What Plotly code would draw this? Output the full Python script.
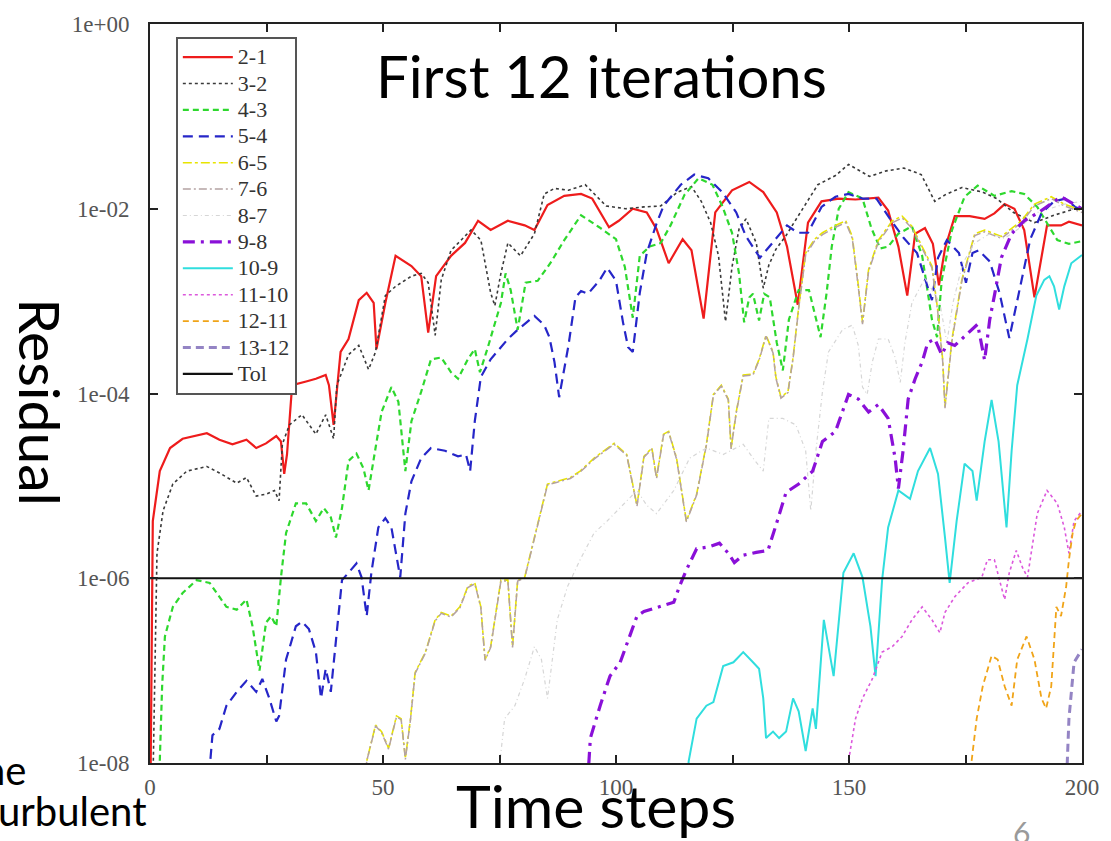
import plotly.graph_objects as go

# ---- data: (time step, log10 residual) ----
TIME_RANGE = [0, 200]
X_TICKS = [0, 25, 50, 75, 100, 125, 150, 175, 200]
X_TICK_TEXT = ["0", "", "50", "", "100", "", "150", "", "200"]
Y_TICKS = [1e0, 1e-2, 1e-4, 1e-6, 1e-8]
Y_TICK_TEXT = ["1e+00", "1e-02", "1e-04", "1e-06", "1e-08"]
TOL = 1e-6

r21 = [(0.1, -8.3), (0.6, -5.38), (2.1, -4.84), (4.3, -4.59), (7.0, -4.49), (12.2, -4.43), (14.9, -4.50),
       (17.7, -4.55), (20.7, -4.50), (22.8, -4.59), (24.9, -4.54), (27.1, -4.46), (28.1, -4.52), (28.8, -4.87),
       (29.4, -4.66), (30.5, -3.91), (33.5, -3.87), (35.6, -3.84), (37.7, -3.80), (38.4, -3.91), (39.4, -4.34),
       (40.9, -3.55), (42.6, -3.41), (44.8, -2.99), (46.5, -2.91), (48.0, -3.02), (48.6, -3.52), (50.5, -3.02),
       (52.7, -2.51), (56.1, -2.62), (58.2, -2.73), (59.7, -3.34), (61.4, -2.73), (64.6, -2.51), (67.6, -2.37),
       (70.4, -2.13), (73.1, -2.23), (76.8, -2.13), (80.4, -2.18), (82.5, -2.23), (85.3, -1.96), (88.9, -1.86),
       (92.5, -1.84), (94.9, -1.89), (98.5, -2.20), (100.6, -2.13), (103.6, -2.00), (106.6, -2.04), (108.7, -2.22),
       (111.3, -2.59), (114.3, -2.33), (116.2, -2.45), (118.8, -3.19), (121.3, -2.04), (124.9, -1.80), (128.6, -1.71),
       (131.6, -1.82), (134.5, -2.04), (136.7, -2.41), (139.0, -3.04), (141.2, -2.15), (144.1, -1.92), (147.8, -1.89),
       (151.4, -1.90), (156.3, -1.88), (158.4, -2.02), (160.6, -2.41), (162.5, -2.94), (164.2, -2.27), (166.3, -2.21),
       (168.0, -2.38), (169.3, -2.83), (170.6, -2.43), (172.7, -2.08), (175.9, -2.08), (179.1, -2.11), (181.2, -2.05),
       (183.4, -1.95), (185.5, -2.00), (187.6, -2.23), (189.8, -2.96), (191.5, -2.48), (192.5, -2.18), (195.5, -2.18),
       (197.2, -2.14), (200.0, -2.18)]

r32 = [(0.6, -8.3), (1.1, -6.66), (1.5, -5.73), (2.8, -5.27), (4.9, -4.98), (7.9, -4.84), (12.2, -4.79),
       (14.9, -4.86), (18.6, -4.97), (20.7, -4.91), (22.8, -5.11), (24.9, -5.09), (26.7, -5.05), (27.7, -5.16),
       (28.4, -4.55), (29.9, -4.34), (32.6, -4.23), (35.6, -4.44), (37.7, -4.23), (39.4, -4.49), (40.1, -3.91),
       (42.6, -3.58), (44.8, -3.48), (46.9, -3.74), (48.4, -3.55), (50.5, -2.94), (52.7, -2.84), (56.1, -2.73),
       (58.2, -2.70), (59.7, -2.80), (61.2, -3.37), (62.5, -2.77), (64.6, -2.45), (68.9, -2.23), (71.0, -2.34),
       (73.1, -2.91), (74.0, -3.05), (75.3, -2.70), (76.8, -2.37), (79.5, -2.51), (82.5, -2.27), (84.6, -1.84),
       (86.8, -1.78), (89.8, -1.80), (93.4, -1.74), (97.9, -1.97), (102.1, -2.00), (106.0, -1.98), (109.6, -1.97),
       (113.2, -1.82), (116.2, -1.76), (118.3, -1.92), (120.3, -2.15), (122.0, -2.51), (123.5, -3.22), (124.9, -2.63),
       (126.4, -2.22), (127.9, -2.11), (130.1, -2.37), (131.6, -2.86), (132.8, -2.61), (134.3, -2.44), (136.5, -2.29),
       (138.2, -2.15), (140.5, -1.97), (143.3, -1.74), (147.1, -1.64), (149.9, -1.52), (154.4, -1.65), (158.0, -1.59),
       (161.8, -1.56), (165.5, -1.63), (168.4, -1.92), (170.6, -1.85), (174.2, -1.77), (178.7, -1.82), (181.7, -1.89),
       (185.3, -2.04), (189.8, -2.15), (194.0, -2.07), (198.5, -2.00), (200.0, -1.99)]

r43 = [(1.9, -8.3), (2.6, -7.17), (3.2, -6.63), (4.9, -6.31), (7.0, -6.16), (10.0, -6.02), (12.8, -6.05),
       (16.4, -6.31), (18.6, -6.34), (20.7, -6.23), (22.0, -6.52), (23.5, -7.00), (24.9, -6.48), (26.0, -6.41),
       (27.1, -6.52), (28.1, -5.99), (29.2, -5.51), (31.3, -5.19), (33.5, -5.19), (35.6, -5.38), (37.3, -5.24),
       (38.8, -5.34), (39.9, -5.56), (41.2, -5.24), (42.6, -4.73), (44.3, -4.65), (45.8, -4.81), (46.9, -5.05),
       (48.4, -4.59), (49.7, -4.20), (51.8, -3.93), (53.3, -4.09), (54.8, -4.84), (56.1, -4.30), (58.2, -3.98),
       (60.3, -3.63), (62.5, -3.61), (64.6, -3.77), (66.1, -3.84), (68.2, -3.63), (69.7, -3.52), (70.8, -3.77),
       (72.5, -3.50), (74.0, -3.23), (75.3, -3.02), (76.3, -2.70), (77.4, -2.88), (78.9, -3.31), (80.6, -2.80),
       (83.2, -2.78), (85.9, -2.59), (88.9, -2.34), (92.5, -2.07), (96.4, -2.20), (100.0, -2.33), (101.9, -2.63),
       (103.6, -3.18), (105.1, -2.51), (107.2, -2.41), (109.6, -2.37), (111.7, -2.18), (114.7, -1.85), (117.7, -1.67),
       (120.7, -1.74), (122.8, -1.97), (124.9, -2.26), (126.4, -2.70), (127.5, -3.23), (128.6, -2.96), (129.4, -2.92),
       (130.7, -3.21), (131.8, -2.92), (133.0, -2.96), (134.5, -3.45), (135.8, -3.75), (137.1, -3.20), (139.2, -2.88),
       (141.4, -2.88), (142.9, -3.18), (143.9, -3.39), (145.2, -2.91), (146.3, -2.41), (147.8, -2.00), (149.9, -1.82),
       (152.9, -1.89), (154.8, -2.21), (156.7, -2.43), (158.4, -2.41), (160.6, -2.27), (163.5, -2.19), (165.7, -2.51),
       (167.8, -3.20), (168.9, -3.39), (169.9, -2.77), (172.1, -2.23), (174.8, -1.87), (177.6, -1.75), (181.2, -1.86),
       (184.9, -1.81), (187.6, -1.84), (190.4, -1.98), (192.5, -2.16), (194.7, -2.34), (197.2, -2.38), (200.0, -2.35)]

r54 = [(12.4, -8.3), (13.4, -7.70), (14.9, -7.63), (16.4, -7.38), (18.6, -7.23), (20.7, -7.11), (22.8, -7.23),
       (24.1, -7.09), (25.6, -7.30), (27.1, -7.55), (27.7, -7.49), (29.2, -6.88), (31.3, -6.52), (32.6, -6.47),
       (34.1, -6.55), (35.6, -6.80), (36.7, -7.30), (37.7, -6.98), (38.8, -7.23), (39.9, -6.69), (41.2, -6.02),
       (42.6, -5.94), (44.3, -5.84), (45.4, -5.99), (46.5, -6.41), (47.5, -5.94), (49.0, -5.45), (50.5, -5.35),
       (51.8, -5.45), (53.7, -5.99), (54.8, -5.30), (56.1, -4.95), (58.2, -4.70), (60.3, -4.59), (63.3, -4.62),
       (66.1, -4.68), (67.8, -4.66), (68.7, -4.84), (69.7, -4.30), (71.0, -3.82), (73.1, -3.63), (76.8, -3.41),
       (78.9, -3.31), (82.5, -3.16), (84.6, -3.26), (85.7, -3.39), (86.8, -3.66), (87.8, -4.04), (89.8, -3.48),
       (91.3, -2.96), (92.5, -2.89), (94.0, -2.92), (96.4, -2.78), (98.1, -2.64), (100.0, -2.78), (101.5, -3.23),
       (102.6, -3.50), (103.6, -3.55), (105.1, -2.91), (106.6, -2.48), (108.7, -2.16), (110.2, -1.97), (113.9, -1.74),
       (116.8, -1.63), (119.8, -1.67), (122.8, -1.82), (125.8, -2.04), (127.9, -2.30), (130.9, -2.53), (133.9, -2.35),
       (136.7, -2.18), (139.0, -2.26), (141.2, -2.26), (144.1, -1.98), (147.1, -1.87), (149.9, -1.84), (152.9, -1.89),
       (155.9, -1.89), (158.8, -2.11), (161.8, -2.32), (164.6, -2.48), (166.9, -2.85), (167.8, -2.99), (169.1, -2.53),
       (171.0, -2.34), (173.6, -2.48), (175.1, -2.80), (176.5, -2.48), (177.8, -2.45), (180.2, -2.57), (182.3, -2.91),
       (184.4, -3.40), (186.4, -2.91), (188.9, -2.33), (191.3, -2.05), (194.0, -1.92), (196.4, -1.89), (198.5, -1.98),
       (200.0, -2.01)]

r65 = [(46.1, -8.3), (46.5, -7.98), (48.4, -7.59), (49.7, -7.66), (51.2, -7.84), (52.9, -7.49), (53.9, -7.52),
       (54.8, -7.95), (55.9, -7.52), (56.9, -7.02), (59.1, -6.80), (61.2, -6.45), (62.5, -6.37), (64.6, -6.41),
       (66.5, -6.31), (68.2, -6.09), (69.7, -6.05), (71.0, -6.31), (71.9, -6.88), (73.1, -6.74), (75.3, -6.02),
       (76.8, -6.02), (77.8, -6.74), (78.9, -6.02), (80.4, -5.99), (81.7, -5.73), (83.8, -5.30), (85.3, -4.98),
       (87.4, -4.95), (90.2, -4.91), (92.3, -4.84), (95.3, -4.70), (97.4, -4.62), (99.6, -4.54), (102.3, -4.66),
       (104.5, -5.21), (106.0, -4.68), (107.7, -4.59), (108.7, -4.91), (110.2, -4.44), (111.3, -4.41), (113.0, -4.70),
       (115.1, -5.38), (117.3, -5.09), (119.4, -4.55), (120.9, -4.01), (122.6, -3.91), (124.1, -4.06), (124.7, -4.59),
       (125.8, -4.20), (127.3, -3.80), (129.4, -3.79), (130.7, -3.63), (132.2, -3.37), (133.7, -3.55), (134.3, -3.82),
       (135.4, -4.04), (136.9, -3.98), (138.0, -3.61), (139.2, -3.07), (140.7, -2.48), (142.6, -2.33), (144.3, -2.26),
       (147.1, -2.18), (149.3, -2.13), (150.7, -2.30), (152.0, -2.83), (152.9, -3.23), (154.2, -2.66), (156.3, -2.34),
       (159.3, -2.13), (161.4, -2.08), (163.5, -2.19), (165.7, -2.41), (167.8, -2.62), (169.1, -3.12), (170.1, -3.63),
       (170.6, -4.14), (172.1, -3.41), (174.2, -2.77), (177.0, -2.27), (179.1, -2.23), (182.7, -2.30), (187.0, -2.13),
       (189.8, -1.95), (193.4, -1.87), (196.2, -1.95), (200.0, -2.02)]

r76 = [(46.1, -8.3), (46.5, -7.98), (48.4, -7.60), (49.7, -7.67), (51.2, -7.85), (52.9, -7.50), (53.9, -7.53),
       (54.8, -7.96), (55.9, -7.53), (56.9, -7.03), (59.1, -6.81), (61.2, -6.46), (62.5, -6.38), (64.6, -6.42),
       (66.5, -6.32), (68.2, -6.10), (69.7, -6.06), (71.0, -6.32), (71.9, -6.89), (73.1, -6.75), (75.3, -6.03),
       (76.8, -6.03), (77.8, -6.75), (78.9, -6.03), (80.4, -6.00), (81.7, -5.74), (83.8, -5.31), (85.3, -4.99),
       (87.4, -4.96), (90.2, -4.92), (92.3, -4.85), (95.3, -4.71), (97.4, -4.63), (99.6, -4.55), (102.3, -4.67),
       (104.5, -5.22), (106.0, -4.69), (107.7, -4.60), (108.7, -4.92), (110.2, -4.45), (111.3, -4.42), (113.0, -4.71),
       (115.1, -5.39), (117.3, -5.10), (119.4, -4.56), (120.9, -4.02), (122.6, -3.92), (124.1, -4.07), (124.7, -4.60),
       (125.8, -4.21), (127.3, -3.81), (129.4, -3.80), (130.7, -3.64), (132.2, -3.38), (133.7, -3.56), (134.3, -3.83),
       (135.4, -4.05), (136.9, -3.99), (138.0, -3.62), (139.2, -3.08), (140.7, -2.50), (142.6, -2.35), (144.3, -2.28),
       (147.1, -2.20), (149.3, -2.15), (150.7, -2.32), (152.0, -2.85), (152.9, -3.25), (154.2, -2.68), (156.3, -2.36),
       (159.3, -2.15), (161.4, -2.10), (163.5, -2.21), (165.7, -2.43), (167.8, -2.64), (169.1, -3.14), (170.1, -3.65),
       (170.6, -4.16), (172.1, -3.43), (174.2, -2.79), (177.0, -2.29), (179.1, -2.25), (182.7, -2.32), (187.0, -2.15),
       (189.8, -1.97), (193.4, -1.89), (196.2, -1.97), (200.0, -2.04)]

r87 = [(74.6, -8.3), (75.1, -7.98), (76.1, -7.52), (78.3, -7.38), (80.4, -7.09), (82.5, -6.74), (84.0, -6.88),
       (85.3, -7.30), (87.4, -6.45), (89.6, -6.09), (92.3, -5.80), (95.3, -5.51), (98.1, -5.38), (100.2, -5.27),
       (104.5, -5.05), (106.6, -5.21), (108.7, -5.30), (112.4, -5.05), (115.8, -4.70), (119.4, -4.59), (123.0, -4.66),
       (127.3, -4.55), (129.4, -4.70), (131.6, -4.84), (132.8, -4.27), (135.8, -4.27), (138.6, -4.34), (140.7, -4.62),
       (141.8, -5.27), (142.9, -4.62), (144.3, -3.98), (145.6, -3.55), (148.6, -3.31), (150.7, -3.26), (152.0, -3.48),
       (152.9, -3.93), (153.9, -4.01), (155.0, -3.66), (156.3, -3.41), (158.4, -3.41), (159.9, -3.61), (161.0, -3.88),
       (162.0, -3.45), (163.5, -3.02), (166.3, -2.75), (169.5, -3.02), (171.0, -3.45), (172.3, -3.02), (174.4, -2.59),
       (177.0, -2.37), (180.2, -2.27), (183.4, -2.32), (186.6, -2.21), (189.8, -2.05), (193.0, -2.00), (196.2, -1.95),
       (200.0, -1.92)]

r98 = [(93.8, -8.3), (94.5, -7.73), (96.6, -7.38), (98.7, -7.06), (100.9, -6.91), (103.0, -6.63), (104.5, -6.41),
       (106.0, -6.36), (108.7, -6.32), (112.4, -6.26), (113.6, -6.09), (115.1, -5.91), (117.3, -5.68), (120.0, -5.66),
       (122.2, -5.62), (124.1, -5.73), (125.4, -5.83), (127.3, -5.75), (130.1, -5.72), (132.6, -5.70), (134.3, -5.43),
       (136.5, -5.07), (139.2, -4.98), (142.2, -4.84), (144.3, -4.52), (147.1, -4.41), (149.9, -4.01), (152.0, -4.06),
       (154.2, -4.20), (156.3, -4.12), (158.4, -4.27), (159.9, -4.70), (160.6, -5.03), (161.6, -4.62), (162.7, -4.06),
       (164.2, -3.84), (165.7, -3.66), (166.9, -3.45), (168.4, -3.41), (169.9, -3.58), (171.2, -3.45), (172.7, -3.48),
       (174.2, -3.41), (176.3, -3.31), (177.6, -3.25), (179.1, -3.64), (180.2, -3.20), (181.2, -2.94), (182.7, -2.53),
       (184.9, -2.27), (187.6, -2.13), (190.4, -2.05), (193.4, -1.94), (195.5, -1.87), (198.3, -1.95), (200.0, -2.00)]

r109 = [(115.1, -8.3), (115.6, -7.98), (117.3, -7.52), (119.4, -7.38), (120.9, -7.34), (123.0, -6.95), (125.2, -6.91),
        (127.3, -6.80), (129.4, -6.91), (130.7, -6.98), (131.6, -7.30), (132.2, -7.73), (133.7, -7.66), (135.0, -7.73),
        (136.5, -7.66), (138.0, -7.30), (139.2, -7.44), (140.7, -7.87), (142.2, -7.41), (142.9, -7.63), (144.6, -6.45),
        (146.7, -7.06), (148.8, -5.94), (151.0, -5.73), (152.9, -5.99), (154.6, -6.52), (155.7, -7.06), (157.1, -6.02),
        (158.4, -5.45), (160.6, -5.05), (163.1, -5.14), (164.8, -4.84), (167.4, -4.59), (169.1, -4.87), (170.6, -5.56),
        (171.6, -6.05), (173.1, -5.38), (174.8, -4.76), (176.5, -4.84), (177.4, -5.16), (179.1, -4.52), (180.6, -4.07),
        (182.1, -4.52), (183.8, -5.45), (184.9, -4.62), (186.1, -3.91), (188.3, -3.41), (190.2, -2.94), (191.9, -2.77),
        (193.0, -2.73), (194.0, -2.84), (195.1, -3.09), (196.2, -2.84), (197.7, -2.59), (200.0, -2.50)]

r1110 = [(149.5, -8.3), (149.9, -7.98), (151.4, -7.52), (152.9, -7.30), (155.0, -7.09), (157.1, -6.80), (159.3, -6.74),
         (161.4, -6.63), (163.5, -6.45), (165.7, -6.31), (167.8, -6.45), (169.5, -6.59), (170.6, -6.37), (172.7, -6.20),
         (175.5, -6.05), (178.5, -5.99), (179.7, -5.80), (181.2, -5.80), (182.3, -6.02), (183.4, -6.23), (184.4, -5.94),
         (185.9, -5.70), (187.2, -5.88), (188.3, -5.99), (190.4, -5.30), (192.5, -5.05), (194.7, -5.19), (196.2, -5.45),
         (197.2, -5.73), (198.3, -5.38), (200.0, -5.27)]

r1211 = [(175.9, -8.3), (176.3, -7.98), (177.4, -7.52), (178.7, -7.17), (180.6, -6.84), (181.9, -6.88), (183.4, -7.17),
         (184.9, -7.38), (186.1, -6.88), (188.1, -6.63), (189.8, -6.88), (191.3, -7.30), (192.3, -7.41), (193.4, -7.17),
         (194.5, -6.31), (195.5, -6.41), (196.6, -6.09), (197.2, -5.80), (198.0, -5.51), (198.7, -5.38), (200.0, -5.30)]

r1312 = [(196.6, -8.3), (197.2, -7.52), (198.3, -6.91), (200.0, -6.77)]

SERIES = [
    ("2-1", r21, dict(color="#ee1c1c", width=2.2, dash="solid")),
    ("3-2", r32, dict(color="#3a3a3a", width=1.6, dash="dot")),
    ("4-3", r43, dict(color="#2ed82e", width=2.2, dash="6px,4px")),
    ("5-4", r54, dict(color="#2626c8", width=2.2, dash="10px,6px")),
    ("6-5", r65, dict(color="#e8e400", width=1.6, dash="dashdot")),
    ("7-6", r76, dict(color="#b4a2a2", width=1.5, dash="8px,3px,2px,3px")),
    ("8-7", r87, dict(color="#d6d6d6", width=1.2, dash="4px,3px,1px,3px")),
    ("9-8", r98, dict(color="#8a10d8", width=3.2, dash="12px,6px,3px,6px")),
    ("10-9", r109, dict(color="#30dede", width=2.0, dash="solid")),
    ("11-10", r1110, dict(color="#dc58dc", width=1.6, dash="dot")),
    ("12-11", r1211, dict(color="#f0a418", width=1.8, dash="6px,4px")),
    ("13-12", r1312, dict(color="#9484c4", width=3.0, dash="8px,5px")),
]

LEGEND_GLYPH = '<span style="font-size:22px">{}</span>'

fig = go.Figure()
for name, pts, line in SERIES:
    fig.add_trace(go.Scatter(
        x=[p[0] for p in pts], y=[10 ** p[1] for p in pts],
        mode="lines", name=LEGEND_GLYPH.format(name), line=line))
fig.add_trace(go.Scatter(x=TIME_RANGE, y=[TOL, TOL], mode="lines", name=LEGEND_GLYPH.format("Tol"),
                         line=dict(color="#111111", width=2.2)))

tick_font = dict(family="Liberation Serif", size=23, color="#555555")
fig.update_xaxes(range=TIME_RANGE, tickvals=X_TICKS, ticktext=X_TICK_TEXT,
                 ticks="inside", ticklen=8, tickwidth=1.5, tickcolor="#222",
                 showline=True, linewidth=2, linecolor="#222", mirror="ticks",
                 showgrid=False, zeroline=False, tickfont=tick_font, ticklabelstandoff=2)
fig.update_yaxes(type="log", range=[-8, 0], tickvals=Y_TICKS, ticktext=Y_TICK_TEXT,
                 ticks="inside", ticklen=8, tickwidth=1.5, tickcolor="#222",
                 showline=True, linewidth=2, linecolor="#222", mirror="ticks",
                 showgrid=False, zeroline=False, tickfont=tick_font, ticklabelstandoff=14)

W, L, T, H = 938, 150, 19, 745
def px(x):
    return (x - L) / W
def py(y):
    return (T + H - y) / H

ann = []
ann.append(dict(text="First 12 iterations", x=px(604), y=py(71), xref="paper", yref="paper",
                showarrow=False, xanchor="center", yanchor="middle",
                font=dict(family="Lato", size=58, color="black")))
ann.append(dict(text="Time steps", x=px(599), y=py(807), xref="paper", yref="paper",
                showarrow=False, xanchor="center", yanchor="middle",
                font=dict(family="Lato", size=59, color="black")))
ann.append(dict(text="Residual", x=px(40), y=py(400), xref="paper", yref="paper",
                showarrow=False, xanchor="center", yanchor="middle", textangle=90,
                font=dict(family="Lato", size=57, color="black")))
ann.append(dict(text="he", x=px(27), y=py(771), xref="paper", yref="paper",
                showarrow=False, xanchor="right", yanchor="middle",
                font=dict(family="Lato", size=40, color="black")))
ann.append(dict(text="urbulent", x=px(149), y=py(812), xref="paper", yref="paper",
                showarrow=False, xanchor="right", yanchor="middle",
                font=dict(family="Lato", size=40, color="black")))
ann.append(dict(text="6", x=px(1027), y=py(813), xref="paper", yref="paper",
                showarrow=False, xanchor="center", yanchor="top",
                font=dict(family="Lato", size=30, color="#9a9a9a")))

fig.update_layout(
    width=1111, height=841,
    margin=dict(l=150, r=23, t=19, b=78, pad=0),
    paper_bgcolor="white", plot_bgcolor="white",
    showlegend=True,
    legend=dict(x=px(176), y=py(32), xanchor="left", yanchor="top",
                bgcolor="white", bordercolor="#555555", borderwidth=2,
                font=dict(family="Liberation Serif", size=18, color="#333333"),
                itemwidth=50, tracegroupgap=0),
    annotations=ann,
)

fig.write_html("out.html", config={"displayModeBar": False})
